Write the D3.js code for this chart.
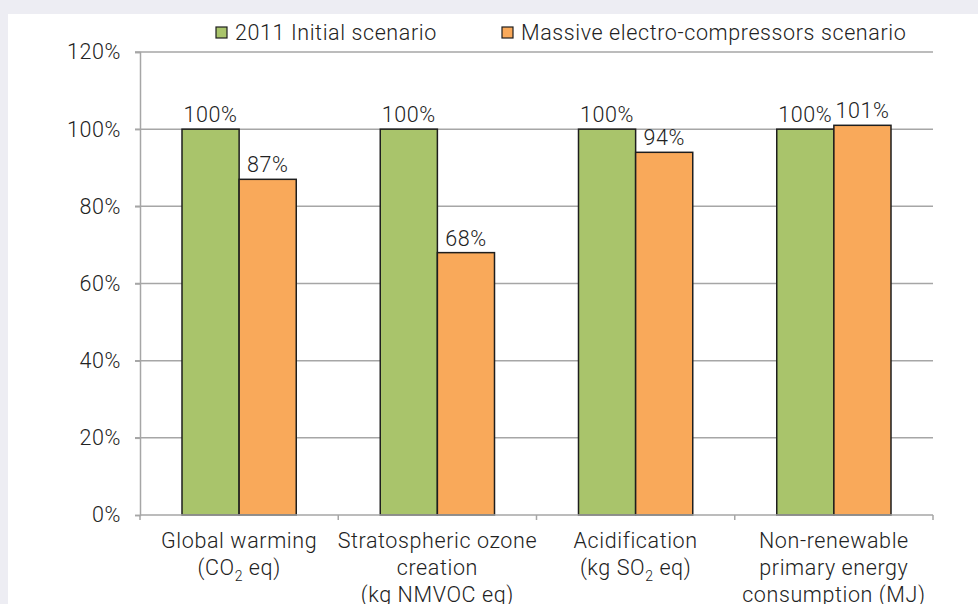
<!DOCTYPE html>
<html><head><meta charset="utf-8">
<script src="https://cdn.jsdelivr.net/npm/d3@7"></script>
<style>
body{margin:0;background:#ededf3;}
svg{display:block;}
text{font-family:"Helvetica Neue",Roboto,"Liberation Sans",Arial,sans-serif;font-weight:300;fill:#222;letter-spacing:0.6px;}
</style></head><body>
<script>
const categories = [
  ["Global warming", "(CO|2| eq)"],
  ["Stratospheric ozone", "creation", "(kg NMVOC eq)"],
  ["Acidification", "(kg SO|2| eq)"],
  ["Non-renewable", "primary energy", "consumption (MJ)"]
];
const seriesNames = ["2011 Initial scenario", "Massive electro-compressors scenario"];
const initialValues = [100, 100, 100, 100];
const electroValues = [87, 68, 94, 101];
const yTicks = [0, 20, 40, 60, 80, 100, 120];
const colors = ["#a9c46b", "#f9a95a"];

const W = 978, H = 604, FS = 21.5;
const svg = d3.select("body").append("svg").attr("width", W).attr("height", H);
svg.append("rect").attr("x", 8).attr("y", 14).attr("width", W - 8).attr("height", H - 14).attr("fill", "#fff");

const x0 = d3.scaleBand().domain(d3.range(categories.length)).range([140, 933]).paddingInner(0).paddingOuter(0);
const x1 = d3.scaleBand().domain([0, 1]).range([42, x0.bandwidth() - 42]);
const y = d3.scaleLinear().domain([0, 120]).range([515, 52]);

const g = svg.append("g");
g.selectAll("line.grid").data(yTicks.filter(d => d > 0)).enter().append("line")
  .attr("x1", 135).attr("x2", 933).attr("y1", d => y(d)).attr("y2", d => y(d))
  .attr("stroke", "#a6a6a6").attr("stroke-width", 1.5);
const yAxis = d3.axisLeft(y).tickValues(yTicks).tickFormat(d => d + "%").tickSize(5).tickPadding(14);
const ya = svg.append("g").attr("transform", "translate(140,0)").call(yAxis);
ya.select(".domain").attr("stroke", "#a6a6a6").attr("stroke-width", 1.5);
ya.selectAll(".tick line").attr("stroke", "#a6a6a6").attr("stroke-width", 1.5);
ya.selectAll(".tick text").attr("font-size", FS).attr("fill", "#222").attr("font-family", null);

const data = categories.map((c, i) => [initialValues[i], electroValues[i]]);
const groups = svg.selectAll("g.cat").data(data).enter().append("g").attr("transform", (d, i) => `translate(${x0(i)},0)`);
groups.selectAll("rect").data(d => d).enter().append("rect")
  .attr("x", (d, j) => x1(j)).attr("width", x1.bandwidth())
  .attr("y", d => y(d)).attr("height", d => y(0) - y(d))
  .attr("fill", (d, j) => colors[j]).attr("stroke", "#1e1e1e").attr("stroke-width", 1.5);
groups.selectAll("text.val").data(d => d).enter().append("text")
  .attr("x", (d, j) => x1(j) + x1.bandwidth() / 2).attr("y", d => y(d) - 7)
  .attr("text-anchor", "middle").attr("font-size", FS).text(d => d + "%");

const xa = svg.append("g");
xa.append("line").attr("x1", 140).attr("x2", 933).attr("y1", y(0)).attr("y2", y(0)).attr("stroke", "#a6a6a6").attr("stroke-width", 1.5);
xa.selectAll("line.t").data(d3.range(categories.length + 1)).enter().append("line")
  .attr("x1", i => i < categories.length ? x0(i) : 933).attr("x2", i => i < categories.length ? x0(i) : 933)
  .attr("y1", y(0)).attr("y2", y(0) + 5).attr("stroke", "#a6a6a6").attr("stroke-width", 1.5);
categories.forEach((lines, i) => {
  lines.forEach((ln, k) => {
    const t = xa.append("text").attr("x", x0(i) + x0.bandwidth() / 2).attr("y", 548 + k * 27)
      .attr("text-anchor", "middle").attr("font-size", FS);
    const parts = ln.split("|");
    parts.forEach((p, pi) => {
      if (pi % 2 === 1) {
        t.append("tspan").attr("font-size", 14).attr("dy", 6).text(p);
      } else {
        t.append("tspan").attr("dy", pi > 0 ? -6 : 0).text(p);
      }
    });
  });
});

const legX = [216, 502];
seriesNames.forEach((s, i) => {
  svg.append("rect").attr("x", legX[i]).attr("y", 27).attr("width", 11).attr("height", 11)
    .attr("fill", colors[i]).attr("stroke", "#1e1e1e").attr("stroke-width", 1.2);
  svg.append("text").attr("x", legX[i] + 19).attr("y", 40).attr("font-size", FS).text(s);
});
</script>
</body></html>
